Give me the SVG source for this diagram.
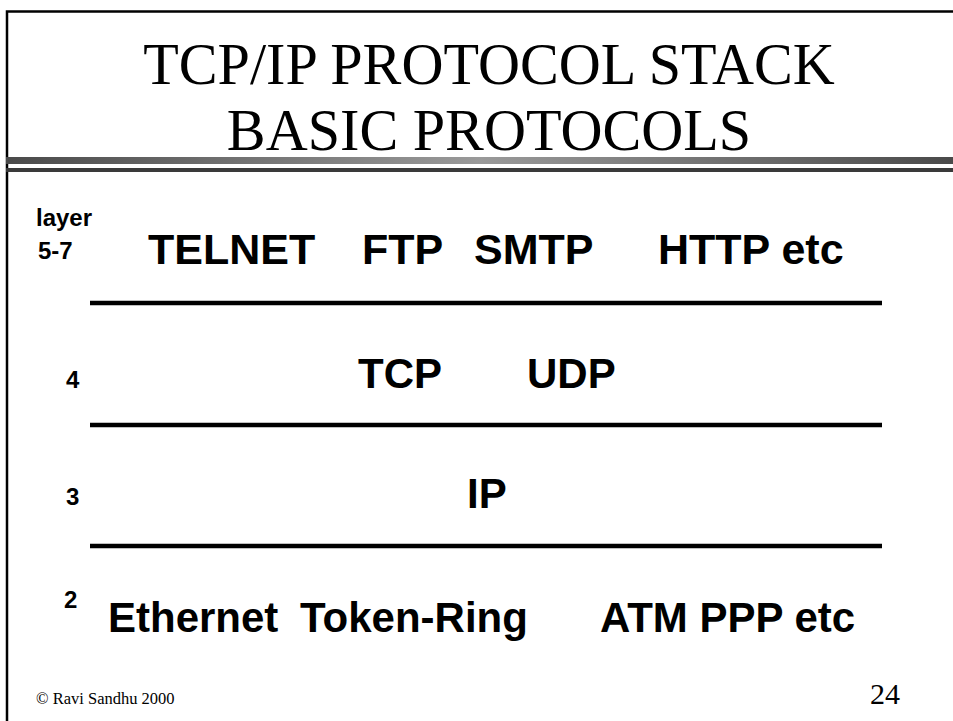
<svg xmlns="http://www.w3.org/2000/svg" width="953" height="721" viewBox="0 0 953 721">
  <defs>
    <linearGradient id="barGrad" x1="0" y1="0" x2="1" y2="0">
      <stop offset="0" stop-color="#4a4a4a"/>
      <stop offset="0.5" stop-color="#9a9a9a"/>
      <stop offset="1" stop-color="#4a4a4a"/>
    </linearGradient>
    <style>
      .title { font-family: "Liberation Serif", "Times New Roman", serif; font-size: 60px; fill: #000; text-anchor: middle; }
      .proto { font-family: "Liberation Sans", Arial, sans-serif; font-weight: bold; font-size: 42px; fill: #000; }
      .proto-top { font-size: 43px; }
      .layer { font-family: "Liberation Sans", Arial, sans-serif; font-weight: bold; font-size: 24px; fill: #000; }
      .foot { font-family: "Liberation Serif", "Times New Roman", serif; fill: #000; }
      .rule { stroke: #000; stroke-width: 4.5; }
    </style>
  </defs>

  <rect x="0" y="0" width="953" height="721" fill="#fff"/>

  <!-- slide frame -->
  <g id="frame">
    <path d="M7 721 V11.5 H953" fill="none" stroke="#000" stroke-width="2.5"/>
    <rect x="6" y="157" width="947" height="7" fill="url(#barGrad)"/>
    <rect x="6" y="168" width="947" height="4" fill="#3a3a3a"/>
  </g>

  <!-- heading, set in a slightly narrowed serif -->
  <g id="title" transform="translate(489 0) scale(0.97 1)">
    <text class="title" x="0" y="84">TCP/IP PROTOCOL STACK</text>
    <text class="title" x="0" y="150">BASIC PROTOCOLS</text>
  </g>

  <!-- layer numbers -->
  <g id="layer-labels">
    <text class="layer" x="36" y="226">layer</text>
    <text class="layer" x="38" y="259">5-7</text>
    <text class="layer" x="66" y="388">4</text>
    <text class="layer" x="66" y="505">3</text>
    <text class="layer" x="64" y="608">2</text>
  </g>

  <!-- protocols per layer -->
  <g id="layer-5-7">
    <text class="proto proto-top" x="148" y="264">TELNET</text>
    <text class="proto proto-top" x="362" y="264">FTP</text>
    <text class="proto proto-top" x="474" y="264">SMTP</text>
    <text class="proto proto-top" x="658" y="264">HTTP etc</text>
  </g>
  <g id="layer-4">
    <text class="proto" x="358" y="388">TCP</text>
    <text class="proto" x="527" y="388">UDP</text>
  </g>
  <g id="layer-3">
    <text class="proto" x="467" y="508">IP</text>
  </g>
  <g id="layer-2">
    <text class="proto" x="108" y="632">Ethernet</text>
    <text class="proto" x="300" y="632">Token-Ring</text>
    <text class="proto" x="600" y="632">ATM PPP etc</text>
  </g>

  <!-- layer separators -->
  <g id="connectors">
    <line class="rule" x1="90" y1="303" x2="882" y2="303"/>
    <line class="rule" x1="90" y1="425" x2="882" y2="425"/>
    <line class="rule" x1="90" y1="546" x2="882" y2="546"/>
  </g>

  <!-- footer -->
  <g id="footer">
    <text class="foot" x="36" y="704" font-size="16.5">© Ravi Sandhu 2000</text>
    <text class="foot" x="870" y="704" font-size="30">24</text>
  </g>
</svg>
